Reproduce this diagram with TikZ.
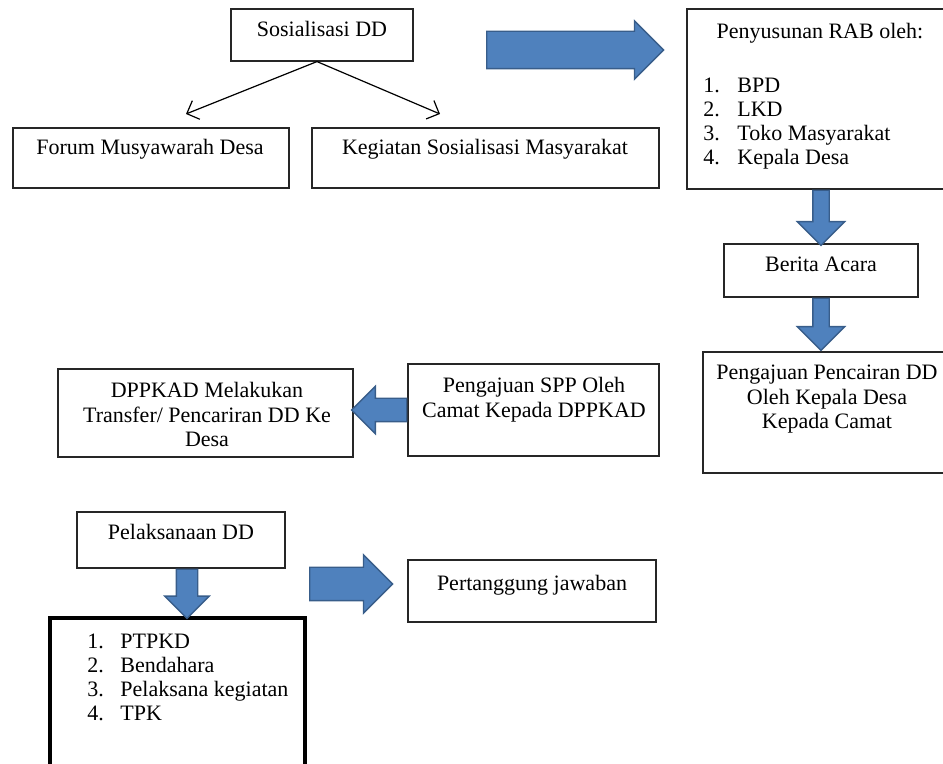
\documentclass[tikz,border=0pt]{standalone}
\usepackage{fontspec}
\setmainfont{Liberation Serif}
\usetikzlibrary{shapes.arrows, arrows.meta, positioning}

\definecolor{arrowblue}{RGB}{79,129,189}
\definecolor{arrowedge}{RGB}{56,93,138}

\tikzset{
  box/.style={draw=black!85, line width=0.6pt, inner sep=0pt},
  thickbox/.style={draw=black, line width=1.8pt, inner sep=0pt},
  txt/.style={inner sep=0pt, align=center, font=\fontsize{11}{12.2}\selectfont},
  blockarrow/.style={single arrow, draw=arrowedge, fill=arrowblue, line width=0.7pt,
    single arrow head indent=0pt, single arrow tip angle=90},
  thinarrow/.style={-{Straight Barb[length=5pt,width=10pt]}, line width=0.6pt},
}

\begin{document}
\begin{tikzpicture}[x=0.5pt, y=-0.5pt]
\useasboundingbox (0,0) rectangle (943,764);
\clip (0,0) rectangle (943,764);

\node[box, minimum width=91pt, minimum height=26pt] (sos) at (322,35) {};
\node[box, minimum width=138pt, minimum height=30pt] (forum) at (151,158) {};
\node[box, minimum width=173.5pt, minimum height=30pt] (keg) at (485.5,158) {};
\node[box, minimum width=134pt, minimum height=90pt] (rab) at (821,99) {};
\node[box, minimum width=97pt, minimum height=26.5pt] (berita) at (821,270.5) {};
\node[box, minimum width=126pt, minimum height=60.5pt] (cair) at (829,412.5) {};
\node[box, minimum width=147.5pt, minimum height=44pt] (dppkad) at (205.5,413) {};
\node[box, minimum width=125.5pt, minimum height=46pt] (spp) at (533.5,410) {};
\node[box, minimum width=104pt, minimum height=28pt] (pelaks) at (181,540) {};
\node[thickbox, minimum width=127.5pt, minimum height=78.5pt] (tim) at (177.5,696.5) {};
\node[box, minimum width=124pt, minimum height=31pt] (tanggung) at (532,591) {};

\node[txt, anchor=base] (sostxt) at (322,37) {Sosialisasi DD};
\node[txt, anchor=base] (forumtxt) at (150,155) {Forum Musyawarah Desa};
\node[txt, anchor=base] (kegtxt) at (485,155) {Kegiatan Sosialisasi Masyarakat};
\node[txt, anchor=base] (rabtxt) at (820,39) {Penyusunan RAB oleh:};
\foreach \lbl [count=\i] in {BPD, LKD, Toko Masyarakat, Kepala Desa} {
  \node[txt, anchor=base west] (rabnum\i) at (703,69+24*\i) {\i.};
  \node[txt, anchor=base west] (rabitem\i) at (737,69+24*\i) {\lbl};
}
\node[txt, anchor=base] (beritatxt) at (821,272) {Berita Acara};
\node[txt, anchor=north] (cairtxt) at (827,365) {Pengajuan Pencairan DD\\Oleh Kepala Desa\\Kepada Camat};
\node[txt, anchor=north] (dppkadtxt) at (207,382) {DPPKAD Melakukan\\Transfer/ Pencariran DD Ke\\Desa};
\node[txt, anchor=north] (spptxt) at (534,377) {Pengajuan SPP Oleh\\Camat Kepada DPPKAD};
\node[txt, anchor=base] (pelakstxt) at (181,540) {Pelaksanaan DD};
\foreach \lbl [count=\i] in {PTPKD, Bendahara, Pelaksana kegiatan, TPK} {
  \node[txt, anchor=base west] (timnum\i) at (87,624+24*\i) {\i.};
  \node[txt, anchor=base west] (timitem\i) at (120,624+24*\i) {\lbl};
}
\node[txt, anchor=base] (tanggungtxt) at (532,590) {Pertanggung jawaban};

\coordinate (forumtip) at (186,114);
\coordinate (kegtip) at (440,114);
\draw[thinarrow] ([xshift=-2.5pt]sos.south) -- (forumtip);
\draw[thinarrow] ([xshift=-2.5pt]sos.south) -- (kegtip);

\node[blockarrow, inner sep=9pt, minimum height=88.5pt,
  single arrow head extend=5.25pt, anchor=tail] (a1) at (486,50) {};
\node[blockarrow, shape border rotate=270, inner sep=3.75pt, minimum height=27.5pt,
  single arrow head extend=7.75pt, anchor=tail] (a2) at (rab.south -| berita) {};
\node[blockarrow, shape border rotate=270, inner sep=3.75pt, minimum height=26pt,
  single arrow head extend=7.75pt, anchor=tail] (a3) at (berita.south) {};
\node[blockarrow, shape border rotate=180, inner sep=5.5pt, minimum height=27.5pt,
  single arrow head extend=6pt, anchor=tail] (a4) at (spp.west) {};
\node[blockarrow, shape border rotate=270, inner sep=5pt, minimum height=24.5pt,
  single arrow head extend=5.75pt, anchor=tail] (a5) at ([xshift=3pt]pelaks.south) {};
\node[blockarrow, inner sep=8pt, minimum height=41.5pt,
  single arrow head extend=6.25pt, anchor=tail] (a6) at (309,584) {};
\end{tikzpicture}
\end{document}
